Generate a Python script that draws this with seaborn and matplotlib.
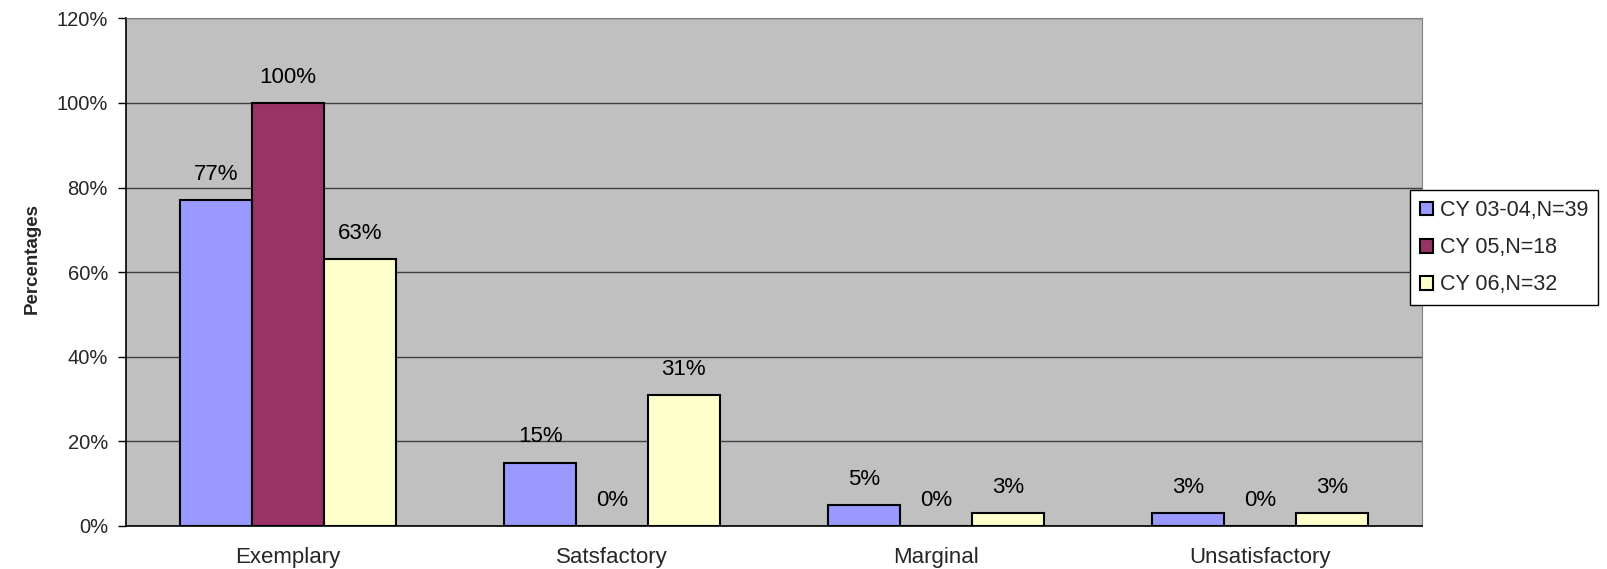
import matplotlib
matplotlib.use("Agg")
import matplotlib.pyplot as plt
import seaborn as sns
import pandas as pd

categories = ["Exemplary", "Satsfactory", "Marginal", "Unsatisfactory"]
series_names = ["CY 03-04,N=39", "CY 05,N=18", "CY 06,N=32"]
cy0304 = [77, 15, 5, 3]
cy05 = [100, 0, 0, 0]
cy06 = [63, 31, 3, 3]
y_ticks = [0, 20, 40, 60, 80, 100, 120]

palette = ["#9999FF", "#993366", "#FFFFCC"]

df = pd.DataFrame({
    "category": categories * 3,
    "series": [series_names[0]] * 4 + [series_names[1]] * 4 + [series_names[2]] * 4,
    "value": cy0304 + cy05 + cy06,
})

sns.set_style("white")
plt.rcParams["font.family"] = ["Liberation Sans", "DejaVu Sans"]

fig = plt.figure(figsize=(16.07, 5.69), dpi=100)
ax = fig.add_axes([0.0784, 0.0756, 0.8065, 0.8921])
ax.set_facecolor("#C0C0C0")

sns.barplot(data=df, x="category", y="value", hue="series", order=categories,
            hue_order=series_names, palette=palette, width=0.665,
            edgecolor="black", linewidth=1.5, saturation=1, ax=ax, zorder=3)

for cont in ax.containers:
    ax.bar_label(cont, labels=[f"{v:.0f}%" for v in cont.datavalues],
                 padding=11, fontsize=16, color="black")

ax.set_ylim(0, 120)
ax.set_xlim(-0.5, 3.5)
ax.set_yticks(y_ticks)
ax.set_yticklabels([f"{t}%" for t in y_ticks], fontsize=14.5)
ax.yaxis.grid(True, color="#404040", linewidth=1, zorder=0)
ax.set_axisbelow(True)

ax.set_xticks(range(4))
ax.set_xticklabels(categories, fontsize=16)
ax.tick_params(axis="x", which="major", length=0, pad=15)
ax.set_xticks([-0.5, 0.5, 1.5, 2.5, 3.5], minor=True)
ax.tick_params(axis="x", which="minor", length=6, color="black", width=1, direction="out")
ax.tick_params(axis="y", length=6, color="black", width=1, direction="out", left=True, pad=7)

for side in ["top", "right"]:
    ax.spines[side].set_visible(True)
    ax.spines[side].set_color("#808080")
for side in ["left", "bottom"]:
    ax.spines[side].set_color("black")
    ax.spines[side].set_linewidth(1.2)

ax.set_xlabel("")
ax.set_ylabel("Percentages", fontsize=13.5, fontweight="bold")
ax.yaxis.set_label_coords(-0.066, 0.527)

leg = ax.legend(loc="upper left", bbox_to_anchor=(0.9907, 0.661), fontsize=15.5,
                frameon=True, fancybox=False, edgecolor="black", framealpha=1,
                handlelength=0.6, handleheight=0.6, handletextpad=0.35,
                borderpad=0.45, labelspacing=0.75, borderaxespad=0)
leg.get_frame().set_linewidth(1)
leg.set_zorder(10)

fig.savefig("out.png", dpi=100)
